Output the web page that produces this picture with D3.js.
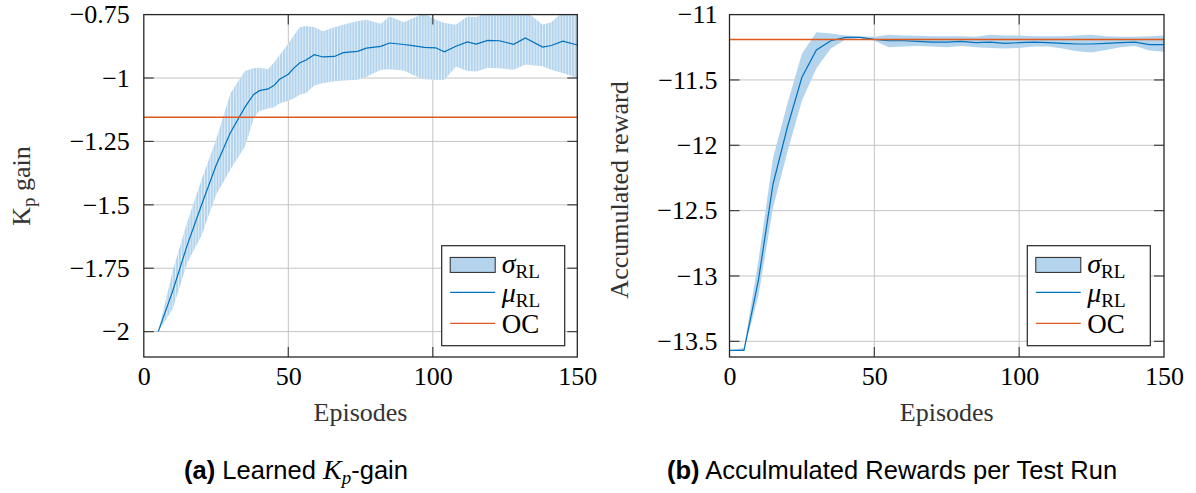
<!DOCTYPE html>
<html>
<head>
<meta charset="utf-8">
<script src="https://cdn.jsdelivr.net/npm/d3@7"></script>
<style>
  body { margin: 0; background: #fff; }
  svg { display: block; }
  .tick text { font-family: "Liberation Serif", serif; }
</style>
</head>
<body>
<svg id="chart" width="1196" height="493"></svg>
<script>
// (a) learned Kp gain
const kpEpisodes = [5, 10, 15, 20, 25, 30, 35, 38, 40, 43, 45, 47, 50, 52, 54, 56, 59, 62, 66, 69, 74, 77, 82, 85, 90, 93, 97, 101, 104, 108, 112, 115, 119, 123, 128, 132, 138, 141, 145, 150];
const kpMean = [-2.0, -1.84, -1.66, -1.50, -1.345, -1.215, -1.115, -1.065, -1.05, -1.043, -1.03, -1.005, -0.985, -0.96, -0.94, -0.93, -0.908, -0.917, -0.915, -0.90, -0.895, -0.882, -0.875, -0.862, -0.868, -0.872, -0.879, -0.881, -0.897, -0.875, -0.858, -0.866, -0.852, -0.853, -0.867, -0.842, -0.878, -0.872, -0.855, -0.870];
const kpUpper = [-2.0, -1.76, -1.57, -1.40, -1.244, -1.06, -0.972, -0.962, -0.96, -0.965, -0.94, -0.91, -0.865, -0.83, -0.80, -0.795, -0.80, -0.816, -0.80, -0.79, -0.775, -0.77, -0.786, -0.757, -0.78, -0.765, -0.745, -0.77, -0.783, -0.79, -0.757, -0.76, -0.74, -0.73, -0.735, -0.735, -0.79, -0.78, -0.74, -0.74];
const kpLower = [-2.0, -1.91, -1.73, -1.62, -1.46, -1.36, -1.27, -1.16, -1.13, -1.12, -1.115, -1.10, -1.09, -1.08, -1.065, -1.06, -1.03, -1.02, -1.013, -1.01, -1.007, -0.995, -0.967, -0.965, -0.97, -0.987, -1.005, -1.007, -1.007, -0.955, -0.972, -0.974, -0.96, -0.962, -0.967, -0.947, -0.954, -0.967, -0.98, -1.0];
const kpOC = -1.155;
const kpTicks = [-2, -1.75, -1.5, -1.25, -1, -0.75];

// (b) accumulated reward per test run
const rwEpisodes = [0, 5, 10, 15, 20, 25, 30, 35, 40, 45, 50, 55, 60, 65, 70, 75, 80, 85, 90, 95, 100, 105, 110, 115, 120, 125, 130, 135, 140, 145, 150];
const rwMean = [-13.57, -13.57, -13.03, -12.3, -11.86, -11.48, -11.27, -11.2, -11.175, -11.175, -11.19, -11.2, -11.2, -11.205, -11.21, -11.21, -11.205, -11.215, -11.21, -11.22, -11.215, -11.21, -11.215, -11.22, -11.225, -11.225, -11.22, -11.215, -11.21, -11.23, -11.23];
const rwUpper = [-13.57, -13.55, -12.88, -12.1, -11.68, -11.3, -11.135, -11.145, -11.16, -11.165, -11.17, -11.155, -11.16, -11.162, -11.165, -11.165, -11.165, -11.17, -11.155, -11.16, -11.16, -11.165, -11.165, -11.165, -11.16, -11.155, -11.165, -11.17, -11.17, -11.165, -11.16];
const rwLower = [-13.57, -13.57, -13.15, -12.48, -12.05, -11.66, -11.41, -11.26, -11.19, -11.18, -11.2, -11.25, -11.245, -11.24, -11.245, -11.25, -11.24, -11.25, -11.255, -11.26, -11.255, -11.245, -11.245, -11.26, -11.28, -11.29, -11.27, -11.25, -11.24, -11.275, -11.285];
const rwOC = -11.19;
const rwTicks = [-13.5, -13, -12.5, -12, -11.5, -11];

const xTicks = [0, 50, 100, 150];

const svg = d3.select('#chart');
const serif = '"Liberation Serif", serif';
const fmt = v => (v < 0 ? '\u2212' : '') + Math.abs(v);

function panel(opt) {
    const x = d3.scaleLinear().domain([0, 150]).range(opt.xr);
    const y = d3.scaleLinear().domain(opt.yd).range([357, 14.6]);
    const [x0, x1] = opt.xr;
    const g = svg.append('g');
    const clipId = 'clip' + opt.id;
    g.append('clipPath').attr('id', clipId)
        .append('rect').attr('x', x0).attr('y', 14.6).attr('width', x1 - x0).attr('height', 357 - 14.6);

    // grid
    g.append('g').selectAll('line').data(xTicks.slice(1, -1)).enter().append('line')
        .attr('x1', d => x(d)).attr('x2', d => x(d)).attr('y1', 14.6).attr('y2', 357)
        .attr('stroke', '#c4c4c4').attr('stroke-width', 1);
    g.append('g').selectAll('line').data(opt.yTicks.filter(d => y(d) > 16)).enter().append('line')
        .attr('x1', x0).attr('x2', x1).attr('y1', d => y(d)).attr('y2', d => y(d))
        .attr('stroke', '#c4c4c4').attr('stroke-width', 1);

    const rows = opt.ep.map((e, i) => ({ e, m: opt.mean[i], lo: opt.lower[i], hi: opt.upper[i] }));
    const area = d3.area().x(d => x(d.e)).y0(d => y(d.lo)).y1(d => y(d.hi));
    const plot = g.append('g').attr('clip-path', `url(#${clipId})`);
    plot.append('path').datum(rows).attr('d', area).attr('fill', opt.bandFill);
    if (opt.stripes) {
        // seams between the per-episode fill segments
        const bandClip = 'band' + opt.id;
        g.append('clipPath').attr('id', bandClip).append('path').datum(rows).attr('d', area);
        plot.append('g').attr('clip-path', `url(#${bandClip})`)
            .selectAll('line').data(d3.range(5, 151)).enter().append('line')
            .attr('x1', d => x(d)).attr('x2', d => x(d)).attr('y1', 0).attr('y2', 360)
            .attr('stroke', '#ffffff').attr('stroke-opacity', 0.6).attr('stroke-width', 1);
    }
    plot.append('path').datum(rows)
        .attr('d', d3.line().x(d => x(d.e)).y(d => y(d.m)))
        .attr('fill', 'none').attr('stroke', '#0072bd').attr('stroke-width', 1.2);
    plot.append('line').attr('x1', x0).attr('x2', x1).attr('y1', y(opt.oc)).attr('y2', y(opt.oc))
        .attr('stroke', '#e0581c').attr('stroke-width', 1.4);

    // inward ticks
    const tk = g.append('g').attr('stroke', '#404040').attr('stroke-width', 1.2);
    xTicks.slice(1, -1).forEach(d => {
        tk.append('line').attr('x1', x(d)).attr('x2', x(d)).attr('y1', 357).attr('y2', 347);
        tk.append('line').attr('x1', x(d)).attr('x2', x(d)).attr('y1', 14.6).attr('y2', 24.6);
    });
    opt.yTicks.filter(d => y(d) > 16).forEach(d => {
        tk.append('line').attr('x1', x0).attr('x2', x0 + 10).attr('y1', y(d)).attr('y2', y(d));
        tk.append('line').attr('x1', x1).attr('x2', x1 - 10).attr('y1', y(d)).attr('y2', y(d));
    });
    g.append('rect').attr('x', x0).attr('y', 14.6).attr('width', x1 - x0).attr('height', 357 - 14.6)
        .attr('fill', 'none').attr('stroke', '#262626').attr('stroke-width', 1.3);

    // tick labels
    const xa = g.append('g').attr('transform', 'translate(0,357)')
        .call(d3.axisBottom(x).tickValues(xTicks).tickSize(0).tickPadding(10).tickFormat(d => d));
    const ya = g.append('g').attr('transform', `translate(${x0},0)`)
        .call(d3.axisLeft(y).tickValues(opt.yTicks).tickSize(0).tickPadding(opt.yPad).tickFormat(fmt));
    [xa, ya].forEach(a => {
        a.select('.domain').remove();
        a.selectAll('text').attr('font-size', 26).attr('fill', '#000').attr('font-family', serif);
    });

    g.append('text').attr('x', (x0 + x1) / 2).attr('y', 421).attr('text-anchor', 'middle')
        .attr('font-family', serif).attr('font-size', 26).attr('fill', '#333').text('Episodes');

    // legend
    const lx = opt.legX, ly = 245.7;
    const lg = g.append('g');
    lg.append('rect').attr('x', lx).attr('y', ly).attr('width', 123).attr('height', 100)
        .attr('fill', '#fff').attr('stroke', '#262626').attr('stroke-width', 1.2);
    lg.append('rect').attr('x', lx + 8.5).attr('y', ly + 11.7).attr('width', 45).attr('height', 15)
        .attr('fill', '#b3d4ec').attr('stroke', '#262626').attr('stroke-width', 1);
    lg.append('line').attr('x1', lx + 8.5).attr('x2', lx + 53.5).attr('y1', ly + 46.6).attr('y2', ly + 46.6)
        .attr('stroke', '#0072bd').attr('stroke-width', 1.2);
    lg.append('line').attr('x1', lx + 8.5).attr('x2', lx + 53.5).attr('y1', ly + 77.6).attr('y2', ly + 77.6)
        .attr('stroke', '#e0581c').attr('stroke-width', 1.2);
    const lt = (yy, sym, sub) => {
        const t = lg.append('text').attr('x', lx + 60).attr('y', ly + yy)
            .attr('font-family', serif).attr('font-size', 28).attr('fill', '#000');
        t.append('tspan').attr('font-style', 'italic').text(sym);
        if (sub) t.append('tspan').attr('font-size', 19).attr('dy', 5).text(sub);
    };
    lt(27, '\u03c3', 'RL');
    lt(56, '\u03bc', 'RL');
    lg.append('text').attr('x', lx + 60).attr('y', ly + 87).attr('font-family', serif)
        .attr('font-size', 27).attr('fill', '#000').text('OC');

    return g;
}

panel({ id: 'a', xr: [143.8, 577.3], yd: [-2.1, -0.75], yTicks: kpTicks, yPad: 14,
    ep: kpEpisodes, mean: kpMean, upper: kpUpper, lower: kpLower, oc: kpOC,
    bandFill: '#b3d4ec', stripes: true, legX: 441.7 });
panel({ id: 'b', xr: [729.5, 1164], yd: [-13.62, -11], yTicks: rwTicks, yPad: 12,
    ep: rwEpisodes, mean: rwMean, upper: rwUpper, lower: rwLower, oc: rwOC,
    bandFill: '#b3d4ec', stripes: false, legX: 1027.3 });

// y labels
const kpLab = svg.append('text').attr('transform', 'translate(30,186) rotate(-90)')
    .attr('text-anchor', 'middle').attr('font-family', serif).attr('font-size', 26).attr('fill', '#333');
kpLab.append('tspan').text('K');
kpLab.append('tspan').attr('font-size', 19).attr('dy', 5).text('p');
kpLab.append('tspan').attr('dy', -5).text(' gain');
svg.append('text').attr('transform', 'translate(628,190) rotate(-90)')
    .attr('text-anchor', 'middle').attr('font-family', serif).attr('font-size', 26).attr('fill', '#333')
    .text('Accumulated reward');

// captions
const sans = '"Liberation Sans", sans-serif';
const capA = svg.append('text').attr('x', 296).attr('y', 479).attr('text-anchor', 'middle')
    .attr('font-family', sans).attr('font-size', 25.5).attr('fill', '#000');
capA.append('tspan').attr('font-weight', 'bold').text('(a)');
capA.append('tspan').text(' Learned ');
capA.append('tspan').attr('font-family', serif).attr('font-style', 'italic').attr('font-size', 28).text('K');
capA.append('tspan').attr('font-family', serif).attr('font-style', 'italic').attr('font-size', 19).attr('dy', 5).text('p');
capA.append('tspan').attr('dy', -5).text('-gain');
const capB = svg.append('text').attr('x', 892).attr('y', 479).attr('text-anchor', 'middle')
    .attr('font-family', sans).attr('font-size', 25.5).attr('fill', '#000');
capB.append('tspan').attr('font-weight', 'bold').text('(b)');
capB.append('tspan').text(' Acculmulated Rewards per Test Run');
</script>
</body>
</html>
